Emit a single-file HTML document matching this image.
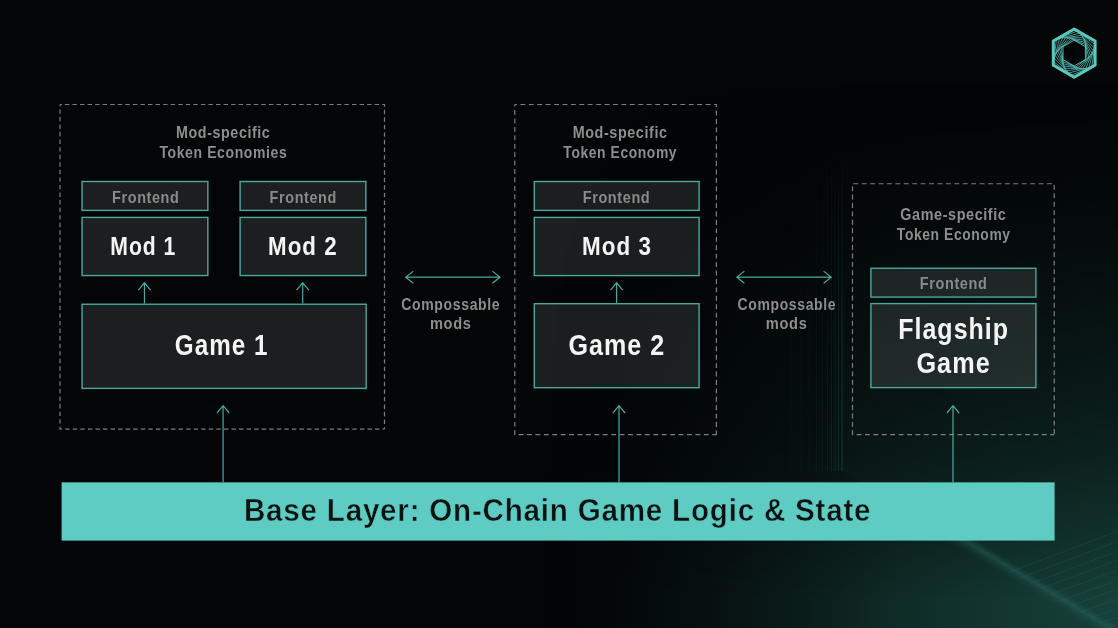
<!DOCTYPE html>
<html>
<head>
<meta charset="utf-8">
<title>Base Layer Diagram</title>
<style>
html,body{margin:0;padding:0;}
body{width:1118px;height:628px;overflow:hidden;background:#030506;font-family:"Liberation Sans",sans-serif;}
#stage{position:relative;width:1118px;height:628px;overflow:hidden;background:#030506;}
svg{position:absolute;left:0;top:0;}
</style>
</head>
<body>
<div id="stage">
<svg width="1118" height="628" viewBox="0 0 1118 628">
 <defs>
  <linearGradient id="gx" x1="540" y1="0" x2="1118" y2="0" gradientUnits="userSpaceOnUse">
   <stop offset="0" stop-color="#164039" stop-opacity="0"/>
   <stop offset="0.12" stop-color="#164039" stop-opacity="0.04"/>
   <stop offset="0.28" stop-color="#164039" stop-opacity="0.19"/>
   <stop offset="0.45" stop-color="#164039" stop-opacity="0.4"/>
   <stop offset="0.62" stop-color="#164039" stop-opacity="0.66"/>
   <stop offset="0.8" stop-color="#164039" stop-opacity="0.84"/>
   <stop offset="1" stop-color="#164039" stop-opacity="1"/>
  </linearGradient>
  <linearGradient id="gy" x1="0" y1="80" x2="0" y2="628" gradientUnits="userSpaceOnUse">
   <stop offset="0" stop-color="#fff" stop-opacity="0"/>
   <stop offset="0.22" stop-color="#fff" stop-opacity="0.07"/>
   <stop offset="0.4" stop-color="#fff" stop-opacity="0.18"/>
   <stop offset="0.55" stop-color="#fff" stop-opacity="0.3"/>
   <stop offset="0.68" stop-color="#fff" stop-opacity="0.44"/>
   <stop offset="0.82" stop-color="#fff" stop-opacity="0.7"/>
   <stop offset="0.95" stop-color="#fff" stop-opacity="1"/>
  </linearGradient>
  <mask id="my" maskUnits="userSpaceOnUse" x="0" y="0" width="1118" height="628"><rect width="1118" height="628" fill="url(#gy)"/></mask>
  <linearGradient id="vl" x1="0" y1="140" x2="0" y2="471" gradientUnits="userSpaceOnUse"><stop offset="0" stop-color="#245d55" stop-opacity="0"/><stop offset="0.6" stop-color="#245d55" stop-opacity="0.7"/><stop offset="1" stop-color="#245d55" stop-opacity="1"/></linearGradient>
  <linearGradient id="tintR" x1="0" y1="150" x2="0" y2="500" gradientUnits="userSpaceOnUse">
   <stop offset="0" stop-color="#1a4a44" stop-opacity="0"/>
   <stop offset="1" stop-color="#1a4a44" stop-opacity="0.07"/>
  </linearGradient>
  <linearGradient id="streak" gradientUnits="userSpaceOnUse" x1="1024" y1="586.8" x2="1031.92" y2="573.6">
   <stop offset="0" stop-color="#2a6b63" stop-opacity="0"/>
   <stop offset="0.35" stop-color="#2a6b63" stop-opacity="0.2"/>
   <stop offset="0.6" stop-color="#2a6b63" stop-opacity="0.42"/>
   <stop offset="1" stop-color="#2a6b63" stop-opacity="0"/>
  </linearGradient>
 </defs>
 <rect width="1118" height="628" fill="url(#gx)" mask="url(#my)"/>
 <path d="M842 150H1118V628L1108 628L842 471Z" fill="url(#tintR)"/>
 <g stroke="url(#vl)" stroke-width="1" fill="none"><path d="M842 140V471" stroke-opacity="0.55"/><path d="M838.5 140V471" stroke-opacity="0.4"/><path d="M835 140V471" stroke-opacity="0.3"/><path d="M831.5 140V471" stroke-opacity="0.24"/><path d="M827.5 140V471" stroke-opacity="0.18"/><path d="M822.5 140V471" stroke-opacity="0.13"/><path d="M816.5 140V471" stroke-opacity="0.1"/><path d="M809.5 140V471" stroke-opacity="0.08"/><path d="M801 140V471" stroke-opacity="0.07"/><path d="M791 140V471" stroke-opacity="0.06"/></g>

 <path d="M946 540L976 540L1122.7 628L1092.7 628Z" fill="url(#streak)"/>
 <g stroke="#3a8a80" stroke-opacity="0.2" stroke-width="0.8" fill="none">
  <path d="M1010 572L1118 531"/><path d="M1020 578L1118 541"/><path d="M1030 584L1118 551"/><path d="M1040 589L1118 560"/>
  <path d="M1050 595L1118 570"/><path d="M1060 601L1118 580"/><path d="M1070 606L1118 589"/><path d="M1080 612L1118 599"/>
  <path d="M1090 618L1118 608"/><path d="M1100 623L1118 617"/>
 </g>
 <g fill="none" stroke="#5bc8be" stroke-linejoin="round">
<path d="M1074.20 28.95L1095.11 41.03L1095.11 65.17L1074.20 77.25L1053.29 65.17L1053.29 41.02Z" stroke-width="3.0"/>
<path d="M1077.11 30.96L1094.83 44.55L1091.92 66.69L1071.29 75.24L1053.57 61.65L1056.48 39.51Z" stroke-width="0.75"/>
<path d="M1079.54 33.16L1094.14 47.76L1088.80 67.70L1068.86 73.04L1054.26 58.44L1059.60 38.50Z" stroke-width="0.75"/>
<path d="M1081.51 35.46L1093.13 50.61L1085.82 68.24L1066.89 70.74L1055.27 55.59L1062.58 37.96Z" stroke-width="0.75"/>
<path d="M1083.03 37.81L1091.85 53.10L1083.03 68.39L1065.37 68.39L1056.55 53.10L1065.37 37.81Z" stroke-width="0.75"/>
<path d="M1084.13 40.15L1090.38 55.23L1080.45 68.18L1064.27 66.05L1058.02 50.97L1067.95 38.02Z" stroke-width="0.75"/>
<path d="M1084.87 42.43L1088.78 57.01L1078.11 67.68L1063.53 63.77L1059.62 49.19L1070.29 38.52Z" stroke-width="0.75"/>
<path d="M1085.27 44.61L1087.09 58.44L1076.02 66.93L1063.13 61.59L1061.31 47.76L1072.38 39.27Z" stroke-width="0.75"/>
<path d="M1085.37 46.65L1085.37 59.55L1074.20 66.00L1063.03 59.55L1063.03 46.65L1074.20 40.20Z" stroke-width="0.9"/>
</g>
 <rect x="61.6" y="482.35" width="993" height="58.25" fill="#5eccc2"/>
</svg>
<svg width="1118" height="628" viewBox="0 0 1118 628">
 <g fill="none" stroke="#7e7e7e" stroke-width="1.2">
  <g stroke-dasharray="4.4 3.156" stroke-dashoffset="2.66">
   <path d="M60 104.5H384.5V429.05"/><path d="M60 104.5V429.05H384.5"/>
  </g>
  <g stroke-dasharray="4.9 3.52" stroke-dashoffset="2.82">
   <path d="M514.8 104.5H716.4V434.7"/><path d="M514.8 104.5V434.7H716.4"/>
  </g>
  <g stroke-dasharray="4.9 3.52">
   <path stroke-dashoffset="7.62" d="M852.5 183.75H1054.2V434.7"/><path stroke-dashoffset="6.02" d="M852.5 183.75V434.7H1054.2"/>
  </g>
 </g>
 <g fill="rgba(255,255,255,0.103)" stroke="#4aa89e" stroke-width="1.4">
  <rect x="82.05" y="181.5" width="125.80" height="28.90"/>
<rect x="240.1" y="181.5" width="125.75" height="28.90"/>
<rect x="82.05" y="217.4" width="125.80" height="58.15"/>
<rect x="240.1" y="217.4" width="125.75" height="58.15"/>
<rect x="82.05" y="304.25" width="284.15" height="84.15"/>
<rect x="534.3" y="181.5" width="164.80" height="28.90"/>
<rect x="534.3" y="217.4" width="164.80" height="58.20"/>
<rect x="534.3" y="303.7" width="164.80" height="84.00"/>
<rect x="870.9" y="268.25" width="165.00" height="28.85"/>
<rect x="870.9" y="303.6" width="165.00" height="84.00"/>
 </g>
 <g fill="none" stroke="#4aa89e" stroke-width="1.2" stroke-linejoin="miter">
  <path d="M223.1 482.5V405.90M217.00 413.00L223.1 405.60L229.20 413.00"/>
  <path d="M619.0 482.5V405.90M612.90 413.00L619.0 405.60L625.10 413.00"/>
  <path d="M953.0 482.5V405.90M946.90 413.00L953.0 405.60L959.10 413.00"/>
  <path d="M144.45 303.6V283.10M138.35 290.20L144.45 282.80L150.55 290.20"/>
  <path d="M302.7 303.6V283.10M296.60 290.20L302.7 282.80L308.80 290.20"/>
  <path d="M616.6 303.3V283.10M610.50 290.20L616.6 282.80L622.70 290.20"/>
  <path d="M406.00 277.2H499.70M413.30 271.10L405.70 277.2L413.30 283.30M492.40 271.10L500.00 277.2L492.40 283.30"/>
  <path d="M737.10 277.2H830.90M744.40 271.10L736.80 277.2L744.40 283.30M823.60 271.10L831.20 277.2L823.60 283.30"/>
 </g>
</svg>





<svg width="1118" height="628" viewBox="0 0 1118 628" font-family="Liberation Sans, sans-serif" text-anchor="middle" stroke-linejoin="miter" stroke-miterlimit="2.5" style="will-change:transform">
<text id="l1a" transform="translate(223.25 138.00) scale(0.8585 1)" font-size="16.6" font-weight="bold" fill="#8e8e8e"  letter-spacing="0.7">Mod-specific</text>
<text id="l1b" transform="translate(223.37 157.50) scale(0.8449 1)" font-size="16.6" font-weight="bold" fill="#8e8e8e"  letter-spacing="0.7">Token Economies</text>
<text id="l2a" transform="translate(620.13 138.00) scale(0.8636 1)" font-size="16.6" font-weight="bold" fill="#8e8e8e"  letter-spacing="0.7">Mod-specific</text>
<text id="l2b" transform="translate(620.25 157.70) scale(0.8362 1)" font-size="16.6" font-weight="bold" fill="#8e8e8e"  letter-spacing="0.7">Token Economy</text>
<text id="l3a" transform="translate(953.38 219.75) scale(0.8664 1)" font-size="16.6" font-weight="bold" fill="#8e8e8e"  letter-spacing="0.7">Game-specific</text>
<text id="l3b" transform="translate(953.75 239.70) scale(0.8363 1)" font-size="16.6" font-weight="bold" fill="#8e8e8e"  letter-spacing="0.7">Token Economy</text>
<text id="c1a" transform="translate(450.75 309.50) scale(0.8894 1)" font-size="15.8" font-weight="bold" fill="#8e8e8e"  letter-spacing="0.7">Compossable</text>
<text id="c1b" transform="translate(450.75 328.75) scale(0.9283 1)" font-size="15.8" font-weight="bold" fill="#8e8e8e"  letter-spacing="0.7">mods</text>
<text id="c2a" transform="translate(786.87 309.50) scale(0.8869 1)" font-size="15.8" font-weight="bold" fill="#8e8e8e"  letter-spacing="0.7">Compossable</text>
<text id="c2b" transform="translate(786.63 328.75) scale(0.9266 1)" font-size="15.8" font-weight="bold" fill="#8e8e8e"  letter-spacing="0.7">mods</text>
<text id="f1" transform="translate(145.75 202.50) scale(0.8692 1)" font-size="16.6" font-weight="bold" fill="#8a8a8a"  letter-spacing="0.7">Frontend</text>
<text id="f2" transform="translate(303.25 202.50) scale(0.8690 1)" font-size="16.6" font-weight="bold" fill="#8a8a8a"  letter-spacing="0.7">Frontend</text>
<text id="f3" transform="translate(616.50 202.50) scale(0.8732 1)" font-size="16.6" font-weight="bold" fill="#8a8a8a"  letter-spacing="0.7">Frontend</text>
<text id="f4" transform="translate(953.62 289.00) scale(0.8737 1)" font-size="16.6" font-weight="bold" fill="#8a8a8a"  letter-spacing="0.7">Frontend</text>
<text id="m1" transform="translate(143.25 254.75) scale(0.8016 1)" font-size="26.4" font-weight="bold" fill="#f4f4f4"  letter-spacing="1.2">Mod 1</text>
<text id="m2" transform="translate(302.88 254.75) scale(0.8453 1)" font-size="26.4" font-weight="bold" fill="#f4f4f4"  letter-spacing="1.2">Mod 2</text>
<text id="m3" transform="translate(617.00 254.75) scale(0.8497 1)" font-size="26.4" font-weight="bold" fill="#f4f4f4"  letter-spacing="1.2">Mod 3</text>
<text id="g1" transform="translate(221.63 355.00) scale(0.8478 1)" font-size="28.6" font-weight="bold" fill="#f4f4f4"  letter-spacing="1.2">Game 1</text>
<text id="g2" transform="translate(616.87 355.00) scale(0.8766 1)" font-size="28.6" font-weight="bold" fill="#f4f4f4"  letter-spacing="1.2">Game 2</text>
<text id="fga" transform="translate(953.63 339.25) scale(0.8670 1)" font-size="28.8" font-weight="bold" fill="#f4f4f4"  letter-spacing="1.2">Flagship</text>
<text id="fgb" transform="translate(953.62 372.75) scale(0.8765 1)" font-size="28.8" font-weight="bold" fill="#f4f4f4"  letter-spacing="1.2">Game</text>
<text id="bl" transform="translate(557.62 520.75) scale(0.9223 1)" font-size="32.1" font-weight="bold" fill="#0a1110"  letter-spacing="0.85" stroke="#5eccc2" stroke-width="0.5">Base Layer: On-Chain Game Logic &amp; State</text>
</svg>
</div>
</body>
</html>
